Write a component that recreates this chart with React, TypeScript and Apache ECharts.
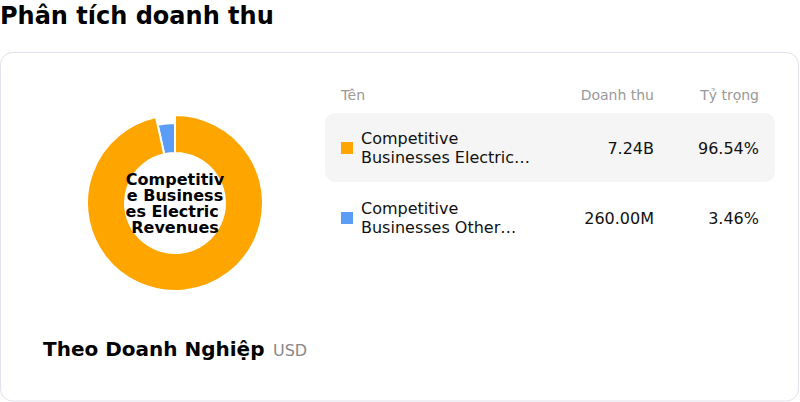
import { useEffect, useRef } from 'react'
import * as echarts from 'echarts'

const TITLE = 'Phân tích doanh thu'
const SUBTITLE = 'Theo Doanh Nghiệp'
const CURRENCY = 'USD'
const HEADERS = ['Tên', 'Doanh thu', 'Tỷ trọng']

const segmentNames = [
  'Competitive Businesses Electric Revenues',
  'Competitive Businesses Other Revenues',
]
const segmentRevenue = [7.24e9, 260e6]
const segmentShare = [96.54, 3.46]
const segmentColors = ['#ffa500', '#5b9cf6']
const activeIndex = 0 // hovered row: bigger slice + centre label

const FONT = "'DejaVu Sans', sans-serif"

function fmtMoney(v: number) {
  if (v >= 1e9) return (v / 1e9).toFixed(2) + 'B'
  return (v / 1e6).toFixed(2) + 'M'
}

// word wrap into at most two lines, ellipsis on the last one (like line-clamp)
function clampLines(text: string, width: number, font: string, maxLines = 2) {
  const ctx = document.createElement('canvas').getContext('2d')!
  ctx.font = font
  const words = text.split(' ')
  const lines: string[] = []
  let cur = ''
  for (const w of words) {
    const next = cur ? cur + ' ' + w : w
    if (cur && ctx.measureText(next).width > width) {
      lines.push(cur)
      cur = w
    } else {
      cur = next
    }
  }
  if (cur) lines.push(cur)
  if (lines.length > maxLines) {
    const kept = lines.slice(0, maxLines)
    let last = kept[maxLines - 1]
    while (last && ctx.measureText(last + '…').width > width) last = last.slice(0, -1)
    kept[maxLines - 1] = last + '…'
    return kept
  }
  return lines
}

export default function App() {
  const ref = useRef<HTMLDivElement>(null)

  useEffect(() => {
    if (!ref.current) {
      return
    }
    const chart = echarts.init(ref.current, undefined, { renderer: 'svg' })

    const rowY = (i: number) => 148 + i * 70
    const rows: any[] = []
    segmentNames.forEach((name, i) => {
      const y = rowY(i)
      if (i === activeIndex) {
        rows.push({
          type: 'rect',
          shape: { x: 325, y: y - 35, width: 450, height: 69, r: 10 },
          style: { fill: '#f5f5f5' },
          z: 0,
        })
      }
      rows.push(
        {
          type: 'rect',
          shape: { x: 341, y: y - 6, width: 12, height: 12 },
          style: { fill: segmentColors[i] },
          z: 1,
        },
        {
          type: 'text',
          z: 1,
          style: {
            x: 361,
            y,
            text: clampLines(name, 180, `16px ${FONT}`).join('\n'),
            font: `16px ${FONT}`,
            lineHeight: 19,
            fill: '#111',
            textVerticalAlign: 'middle',
          },
        },
        {
          type: 'text',
          z: 1,
          style: {
            x: 654,
            y,
            text: fmtMoney(segmentRevenue[i]),
            font: `16px ${FONT}`,
            fill: '#111',
            textAlign: 'right',
            textVerticalAlign: 'middle',
          },
        },
        {
          type: 'text',
          z: 1,
          style: {
            x: 759,
            y,
            text: segmentShare[i].toFixed(2) + '%',
            font: `16px ${FONT}`,
            fill: '#111',
            textAlign: 'right',
            textVerticalAlign: 'middle',
          },
        },
      )
    })

    const headerX = [341, 654, 759]
    const headerAlign = ['left', 'right', 'right']

    // two rings share the same data: the active slice is drawn on the wider one
    const ring = (outer: number, active: boolean) => ({
      type: 'pie',
      center: [175, 203],
      radius: [50, outer],
      startAngle: 90,
      clockwise: true,
      silent: true,
      z: active ? 3 : 2,
      labelLine: { show: false },
      data: segmentNames.map((name, i) => {
        const on = (i === activeIndex) === active
        return {
          name,
          value: segmentRevenue[i],
          itemStyle: on
            ? { color: segmentColors[i], borderColor: '#fff', borderWidth: 2 }
            : { color: 'rgba(0,0,0,0)', borderWidth: 0 },
          label:
            on && active
              ? {
                  show: true,
                  position: 'center',
                  formatter: '{b}',
                  width: 100,
                  overflow: 'breakAll',
                  fontFamily: FONT,
                  fontSize: 16,
                  fontWeight: 'bold',
                  lineHeight: 16,
                  color: '#000',
                }
              : { show: false },
        }
      }),
    })

    chart.setOption({
      animation: false,
      graphic: [
        {
          type: 'text',
          style: { x: 0, y: 16, text: TITLE, font: `bold 24px ${FONT}`, fill: '#000', textVerticalAlign: 'middle' },
        },
        {
          type: 'rect',
          shape: { x: 0.5, y: 52.5, width: 798, height: 348.5, r: 12 },
          style: { fill: '#fff', stroke: '#e2e0ea', lineWidth: 1 },
          z: -1,
        },
        ...HEADERS.map((h, i) => ({
          type: 'text',
          style: {
            x: headerX[i],
            y: 95,
            text: h,
            font: `14px ${FONT}`,
            fill: '#999',
            textAlign: headerAlign[i],
            textVerticalAlign: 'middle',
          },
        })),
        ...rows,
        {
          type: 'text',
          style: { x: 43, y: 349, text: SUBTITLE, font: `bold 20px ${FONT}`, fill: '#000', textVerticalAlign: 'middle' },
        },
        {
          type: 'text',
          style: { x: 273, y: 350, text: CURRENCY, font: `16px ${FONT}`, fill: '#888', textVerticalAlign: 'middle' },
        },
      ],
      series: [ring(80, false), ring(88, true)],
    })

    return () => {
      chart.dispose()
    }
  }, [])

  return (
    <div
      ref={ref}
      role="img"
      aria-label="revenue breakdown"
      style={{ position: 'absolute', left: 0, top: 0, width: 800, height: 402 }}
    />
  )
}
